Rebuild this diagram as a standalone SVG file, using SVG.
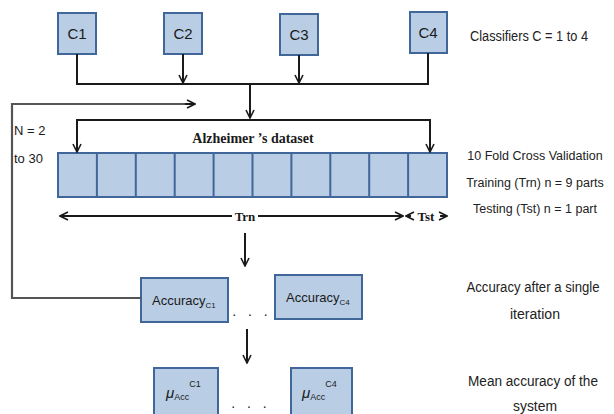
<svg xmlns="http://www.w3.org/2000/svg" width="614" height="414" viewBox="0 0 614 414">
<style>
.box{fill:#b9cde5;stroke:#41679a;stroke-width:2}
.ln{fill:none;stroke:#1a1a1a;stroke-width:2}
.fb{fill:none;stroke:#555;stroke-width:2.2}
.t{font-family:"Liberation Sans",Arial,sans-serif;fill:#1a1a1a}
.s{font-family:"Liberation Serif","Times New Roman",serif;font-weight:bold;fill:#1a1a1a}
.r{font-family:"Liberation Sans",Arial,sans-serif;font-size:14px;fill:#222;text-anchor:middle}
.r2{font-family:"Liberation Sans",Arial,sans-serif;font-size:12.5px;fill:#222;text-anchor:middle}
</style>
<defs>
<marker id="a" viewBox="0 0 10 10" refX="9" refY="5" markerWidth="10" markerHeight="10" markerUnits="userSpaceOnUse" orient="auto-start-reverse">
<path d="M1,1 L9,5 L1,9" fill="none" stroke="#1a1a1a" stroke-width="1.6"/>
</marker>
</defs>
<g id="c1"><rect class="box" x="58" y="13" width="38" height="41"/><text class="t" x="77" y="39" font-size="15" text-anchor="middle">C1</text></g>
<g id="c2"><rect class="box" x="164" y="13" width="38" height="41"/><text class="t" x="183" y="39" font-size="15" text-anchor="middle">C2</text></g>
<g id="c3"><rect class="box" x="280" y="14" width="38" height="41"/><text class="t" x="299" y="40" font-size="15" text-anchor="middle">C3</text></g>
<g id="c4"><rect class="box" x="410" y="12" width="37" height="41"/><text class="t" x="428" y="38" font-size="15" text-anchor="middle">C4</text></g>
<g id="dataset">
<text class="s" x="253" y="143" font-size="14" text-anchor="middle">Alzheimer ’s dataset</text>
<rect class="box" x="58" y="153" width="389" height="44"/>
<path d="M96.9,153V197M135.8,153V197M174.7,153V197M213.6,153V197M252.5,153V197M291.4,153V197M330.3,153V197M369.2,153V197M408.1,153V197" stroke="#41679a" stroke-width="2"/>
</g>
<g id="acc1"><rect class="box" x="141" y="278" width="87" height="44"/><text class="t" x="152" y="305" font-size="13">Accuracy<tspan font-size="8" dy="3">C1</tspan></text></g>
<g id="acc4"><rect class="box" x="275" y="275" width="87" height="44"/><text class="t" x="286" y="302" font-size="13">Accuracy<tspan font-size="8" dy="3">C4</tspan></text></g>
<g id="mu1"><rect class="box" x="154" y="368" width="64" height="48"/><text class="t" x="166" y="398" font-size="15" font-style="italic">μ<tspan font-size="9" font-style="normal" dy="2">Acc</tspan><tspan font-size="9" font-style="normal" dy="-13">C1</tspan></text></g>
<g id="mu4"><rect class="box" x="291" y="368" width="61" height="48"/><text class="t" x="302" y="398" font-size="15" font-style="italic">μ<tspan font-size="9" font-style="normal" dy="2">Acc</tspan><tspan font-size="9" font-style="normal" dy="-13">C4</tspan></text></g>
<g id="connectors">
<path class="ln" d="M77,54V84H428V53"/>
<path class="ln" d="M183,54V83" marker-end="url(#a)"/>
<path class="ln" d="M299,55V83" marker-end="url(#a)"/>
<path class="ln" d="M250,84V118" marker-end="url(#a)"/>
<path class="ln" d="M77,151V120H430V151" />
<path class="ln" d="M77,140V152" marker-end="url(#a)"/>
<path class="ln" d="M430,140V152" marker-end="url(#a)"/>
<path class="fb" d="M141,298H12V104H195"/>
<path class="ln" d="M185,104H195" marker-end="url(#a)"/>
<path class="ln" d="M60,216H232" marker-start="url(#a)"/>
<path class="ln" d="M258,216H403" marker-end="url(#a)"/>
<text class="s" x="245" y="221" font-size="13" text-anchor="middle">Trn</text>
<path class="ln" d="M406,216H411" marker-start="url(#a)"/>
<path class="ln" d="M440,216H447" marker-end="url(#a)"/>
<text class="s" x="426" y="221" font-size="13" text-anchor="middle">Tst</text>
<path class="ln" d="M245,233V266" marker-end="url(#a)"/>
<path class="ln" d="M247,329V363" marker-end="url(#a)"/>
</g>
<text class="t" x="14" y="135" font-size="13">N = 2</text>
<text class="t" x="14" y="163" font-size="13">to 30</text>
<text class="t" x="252" y="316" font-size="14" text-anchor="middle" letter-spacing="4">. . .</text>
<text class="t" x="251" y="408" font-size="14" text-anchor="middle" letter-spacing="4">. . .</text>
<text class="r" x="529" y="41" textLength="118" lengthAdjust="spacingAndGlyphs">Classifiers C = 1 to 4</text>
<text class="r2" x="535" y="160">10 Fold Cross Validation</text>
<text class="r2" x="535" y="187">Training (Trn) n = 9 parts</text>
<text class="r2" x="535" y="213">Testing (Tst) n = 1 part</text>
<text class="r" x="533" y="292" textLength="133" lengthAdjust="spacingAndGlyphs">Accuracy after a single</text>
<text class="r" x="535" y="319" textLength="50" lengthAdjust="spacingAndGlyphs">iteration</text>
<text class="r" x="533" y="386" textLength="130" lengthAdjust="spacingAndGlyphs">Mean accuracy of the</text>
<text class="r" x="535" y="411" textLength="44" lengthAdjust="spacingAndGlyphs">system</text>
</svg>
